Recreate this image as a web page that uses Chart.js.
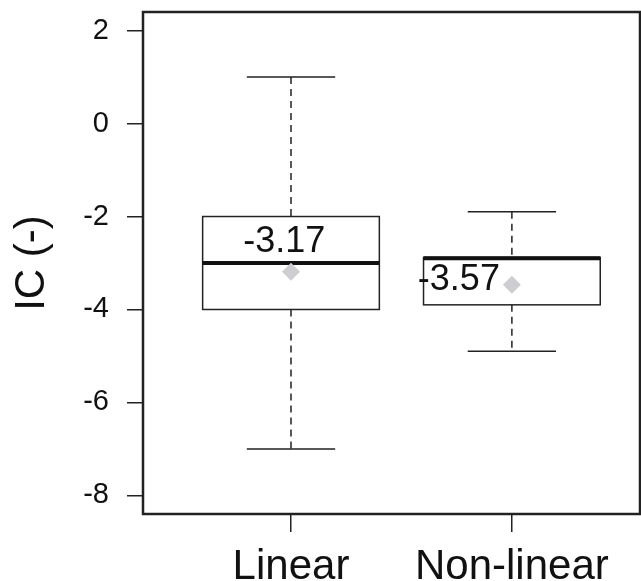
<!DOCTYPE html>
<html>
<head>
<meta charset="utf-8">
<script src="https://cdn.jsdelivr.net/npm/chart.js"></script>
<style>
  body { margin: 0; background: #fff; }
  canvas { display: block; }
</style>
</head>
<body>
<canvas id="icChart" width="641" height="581"></canvas>
<script>
  const categories = ["Linear", "Non-linear"];
  const whiskerHigh = [1.0, -1.9];
  const upperQuartile = [-2.0, -2.88];
  const medians = [-3.0, -2.9];
  const lowerQuartile = [-4.0, -3.9];
  const whiskerLow = [-7.0, -4.9];
  const means = [-3.19, -3.47];
  const meanLabels = ["-3.17", "-3.57"];
  const yTicks = [-8, -6, -4, -2, 0, 2];

  const FONT = "'Liberation Sans', Arial, sans-serif";
  const INK = "#222";

  // where the printed mean labels sit, in data units (x offset from box centre, baseline y)
  const labelSpots = [
    { dx: -0.03, y: -2.77 },
    { dx: -0.24, y: -3.59 }
  ];

  // keep the plot frame where the reference has it: no extra label overhang padding
  function noOverhang(s) {
    s.paddingLeft = 0;
    s.paddingRight = 0;
    s.paddingTop = 0;
    s.paddingBottom = 0;
  }

  const boxPlugin = {
    id: "boxes",
    beforeDatasetsDraw(chart) {
      const { ctx, scales: { x, y } } = chart;
      const boxHalf = 0.4, capHalf = 0.2;
      ctx.save();
      categories.forEach((c, i) => {
        const pos = i + 1;
        const xc = x.getPixelForValue(pos);
        const xl = x.getPixelForValue(pos - boxHalf);
        const xr = x.getPixelForValue(pos + boxHalf);
        const cl = x.getPixelForValue(pos - capHalf);
        const cr = x.getPixelForValue(pos + capHalf);
        const yHi = y.getPixelForValue(whiskerHigh[i]);
        const yQ3 = y.getPixelForValue(upperQuartile[i]);
        const yMed = y.getPixelForValue(medians[i]);
        const yQ1 = y.getPixelForValue(lowerQuartile[i]);
        const yLo = y.getPixelForValue(whiskerLow[i]);

        ctx.strokeStyle = INK;
        ctx.lineWidth = 1.5;
        // dashed whiskers
        ctx.setLineDash([7, 5]);
        ctx.beginPath();
        ctx.moveTo(xc, yHi); ctx.lineTo(xc, yQ3);
        ctx.moveTo(xc, yQ1); ctx.lineTo(xc, yLo);
        ctx.stroke();
        ctx.setLineDash([]);
        // caps
        ctx.beginPath();
        ctx.moveTo(cl, yHi); ctx.lineTo(cr, yHi);
        ctx.moveTo(cl, yLo); ctx.lineTo(cr, yLo);
        ctx.stroke();
        // box
        ctx.fillStyle = "#fff";
        ctx.fillRect(xl, yQ3, xr - xl, yQ1 - yQ3);
        ctx.strokeRect(xl, yQ3, xr - xl, yQ1 - yQ3);
        // median
        ctx.lineWidth = 4;
        ctx.strokeStyle = "#111";
        ctx.beginPath();
        ctx.moveTo(xl, yMed); ctx.lineTo(xr, yMed);
        ctx.stroke();
        // mean label
        ctx.fillStyle = "#111";
        ctx.font = "36px " + FONT;
        ctx.textAlign = "center";
        ctx.textBaseline = "alphabetic";
        const spot = labelSpots[i];
        ctx.fillText(meanLabels[i], x.getPixelForValue(pos + spot.dx), y.getPixelForValue(spot.y));
      });
      ctx.restore();
    },
    afterDraw(chart) {
      const { ctx, chartArea: a } = chart;
      ctx.save();
      ctx.strokeStyle = INK;
      ctx.lineWidth = 2.5;
      ctx.strokeRect(a.left, a.top, a.right - a.left, a.bottom - a.top);
      ctx.restore();
    }
  };

  new Chart(document.getElementById("icChart"), {
    type: "scatter",
    data: {
      datasets: [{
        data: means.map((m, i) => ({ x: i + 1, y: m })),
        pointStyle: "rectRot",
        pointRadius: 9,
        backgroundColor: "#cdcdd2",
        borderColor: "#cdcdd2",
        borderWidth: 0
      }]
    },
    options: {
      responsive: false,
      animation: false,
      layout: { autoPadding: false, padding: { top: 12, right: 1, left: 0, bottom: 0 } },
      plugins: { legend: { display: false }, tooltip: { enabled: false } },
      scales: {
        x: {
          type: "linear",
          min: 0.33,
          max: 2.58,
          afterBuildTicks: s => { s.ticks = categories.map((c, i) => ({ value: i + 1 })); },
          afterFit: s => { s.height = 67; noOverhang(s); },
          ticks: {
            autoSkip: false,
            maxRotation: 0,
            padding: 10,
            color: "#111",
            font: { family: FONT, size: 42 },
            callback: v => categories[v - 1]
          },
          grid: { drawOnChartArea: false, tickLength: 18, color: INK, lineWidth: 1.5 },
          border: { display: false }
        },
        y: {
          min: -8.4,
          max: 2.4,
          afterBuildTicks: s => { s.ticks = yTicks.map(v => ({ value: v })); },
          afterFit: s => { s.width = 143; noOverhang(s); },
          ticks: {
            padding: 18,
            color: "#111",
            font: { family: FONT, size: 29 },
            callback: v => String(v)
          },
          grid: { drawOnChartArea: false, tickLength: 16, color: INK, lineWidth: 1.5 },
          border: { display: false },
          title: {
            display: true,
            text: "IC (-)",
            color: "#111",
            font: { family: FONT, size: 42 },
            padding: { top: 7, bottom: 0 }
          }
        }
      }
    },
    plugins: [boxPlugin]
  });
</script>
</body>
</html>
